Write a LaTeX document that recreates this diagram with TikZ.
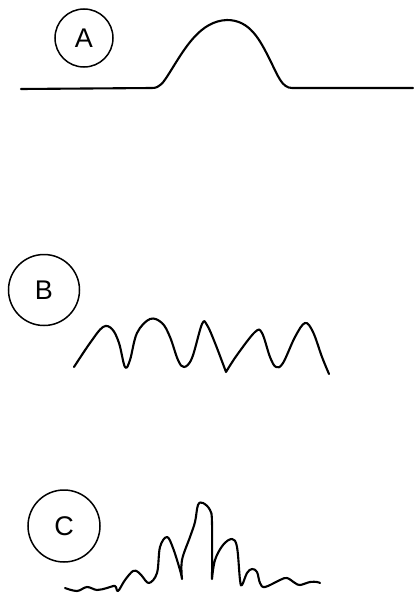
\documentclass[tikz,border=0pt]{standalone}
\usepackage{fontspec}
\setmainfont{Liberation Sans}
\begin{document}
\begin{tikzpicture}[x=1pt,y=-1pt,
  label/.style={circle,draw,line width=1.5pt,inner sep=0pt,minimum size=58pt,font=\fontsize{27}{27}\selectfont},
  trace/.style={line width=2.1pt,line join=round,line cap=round}]
\useasboundingbox (0,0) rectangle (413,597);
\fill[white] (0,0) rectangle (413,597);
% labels
\node[label] (A) at (84,38) {A};
\node[label,minimum size=71pt] (B) at (44,290) {B};
\node[label,minimum size=72pt] (C) at (64,526) {C};
% curve A
\coordinate (a0) at (21,89);
\coordinate (a1) at (413,88);
\draw[trace] (a0) -- (152,88)
  .. controls (160,88) and (163,83) .. (170,72)
  .. controls (185,48) and (200,21) .. (227,20)
  .. controls (250,20) and (260,40) .. (270,60)
  .. controls (278,76) and (282,88) .. (292,88)
  -- (a1);
% curve B
\draw[trace] plot[smooth,tension=0.6] coordinates {(74,367) (90,343) (103,327) (112,329) (119,343) (125,367) (130,360) (137,333) (150,319) (162,323) (170,337) (178,360) (184,367) (192,358) (202,324) (207,325) (215,343) (226,372)}
  -- plot[smooth,tension=0.6] coordinates {(226,372) (237,355) (255,332) (262,333) (270,357) (276,367) (283,363) (295,337) (305,323) (313,332) (322,357) (329,374)};
% curve C
\draw[trace] plot[smooth,tension=0.6] coordinates {(65,588) (77,591) (87,587) (97,590) (107,588) (115,586) (118,591) (125,580) (133,571) (138,572) (142,576) (149,583) (157,573) (160,547) (167,537) (173,548) (180,570) (182,579)}
  -- plot[smooth,tension=0.6] coordinates {(182,579) (182,560) (190,537) (195,522) (198,505) (203,503) (210,510) (212,523) (212,579)}
  -- plot[smooth,tension=0.6] coordinates {(212,579) (215,560) (223,545) (232,539) (237,547) (240,580) (242,585) (247,573) (252,569) (257,572) (260,583) (265,587) (280,580) (287,578) (295,583) (300,585) (310,582) (317,582) (320,583)};
\end{tikzpicture}
\end{document}
